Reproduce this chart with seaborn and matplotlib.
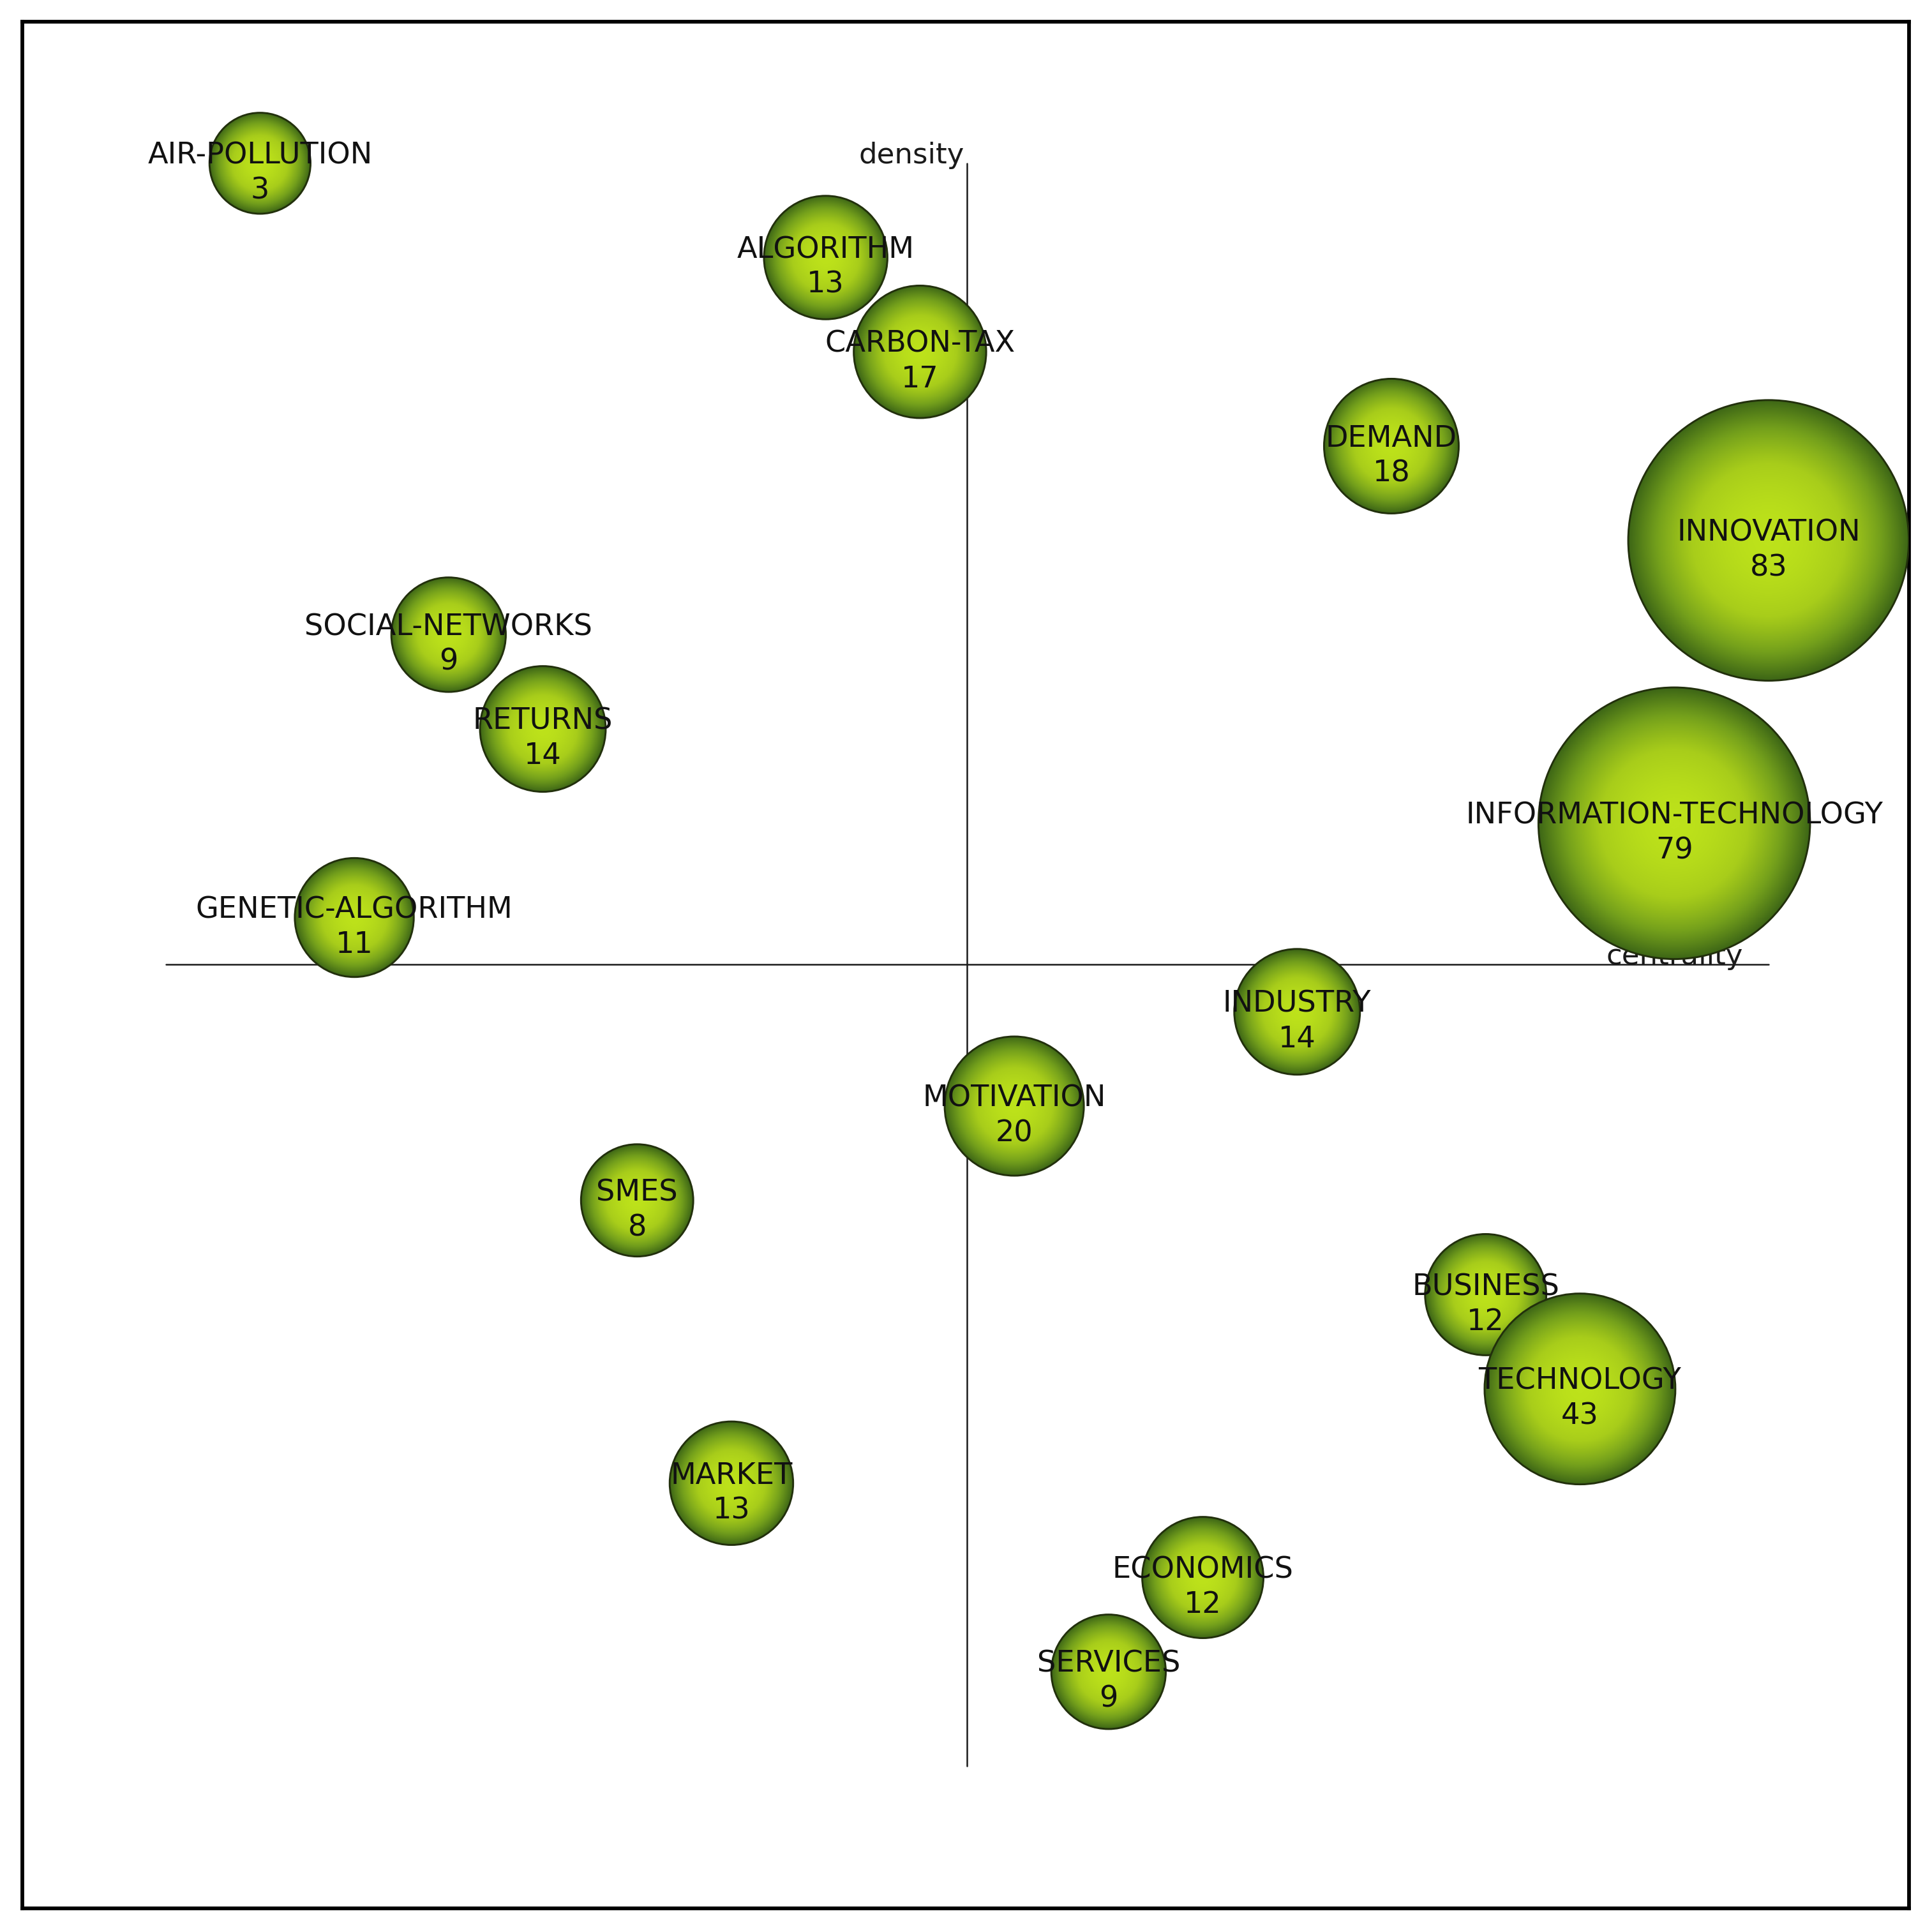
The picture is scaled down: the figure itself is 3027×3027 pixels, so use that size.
import numpy as np
import matplotlib
matplotlib.use("Agg")
import matplotlib.pyplot as plt
from matplotlib.patches import Circle
import seaborn as sns

sns.set_theme(style="white")
plt.rcParams["font.family"] = ["DejaVu Sans"]

# themes: name, documents, centrality rank, density rank
themes = ["AIR-POLLUTION", "ALGORITHM", "CARBON-TAX", "DEMAND", "INNOVATION",
          "SOCIAL-NETWORKS", "RETURNS", "INFORMATION-TECHNOLOGY", "GENETIC-ALGORITHM",
          "INDUSTRY", "MOTIVATION", "SMES", "BUSINESS", "TECHNOLOGY", "MARKET",
          "ECONOMICS", "SERVICES"]
docs = [3, 13, 17, 18, 83, 9, 14, 79, 11, 14, 20, 8, 12, 43, 13, 12, 9]
centrality = [1, 7, 8, 13, 17, 3, 4, 16, 2, 12, 9, 5, 14, 15, 6, 11, 10]
density = [17, 16, 15, 14, 13, 12, 11, 10, 9, 8, 7, 6, 5, 4, 3, 2, 1]

axis_mid = 8.5
axis_max = 17

# radial gradient: dark olive edge -> bright lime centre
bubble_cmap = sns.blend_palette(["#3d6616", "#74a01c", "#a8cd1a", "#bde21b"], as_cmap=True)

fig = plt.figure(figsize=(10.09, 10.09), dpi=300)
ax = fig.add_axes([0.0116, 0.0122, 0.9765, 0.9765])
ax.set_xlim(-1.52, 18.49)
ax.set_ylim(-1.51, 18.50)
ax.set_aspect("equal")
ax.set_xticks([])
ax.set_yticks([])
for sp in ax.spines.values():
    sp.set_color("black")
    sp.set_linewidth(1.4)

# quadrant axes
ax.plot([0, axis_max], [axis_mid, axis_mid], color="#1a1a1a", lw=0.6, zorder=1)
ax.plot([axis_mid, axis_mid], [0, axis_max], color="#1a1a1a", lw=0.6, zorder=1)
ax.text(axis_mid - 0.03, axis_max, "density", ha="right", va="baseline",
        fontsize=10.8, color="#1a1a1a", zorder=1.5)
ax.text(axis_max - 0.27, axis_mid, "centrality", ha="right", va="baseline",
        fontsize=10.8, color="#1a1a1a", zorder=1.5)

g = np.linspace(-1, 1, 300)
gx, gy = np.meshgrid(g, g)
shade = 1 - np.clip(np.sqrt(gx**2 + gy**2), 0, 1) ** 1.8

for i, (name, n, cx, cy) in enumerate(zip(themes, docs, centrality, density)):
    r = 0.5 + n / 84
    z = 3 + i * 0.01
    circ = Circle((cx, cy), r, facecolor="none", edgecolor="#22300c", lw=0.7, zorder=z + 0.005)
    ax.add_patch(circ)
    im = ax.imshow(shade, cmap=bubble_cmap, extent=[cx - r, cx + r, cy - r, cy + r],
                   origin="lower", zorder=z, interpolation="bilinear", vmin=0, vmax=1)
    im.set_clip_path(circ)

for name, n, cx, cy in zip(themes, docs, centrality, density):
    ax.text(cx, cy + 0.08, name, ha="center", va="center", fontsize=11.1,
            color="#111111", zorder=10)
    ax.text(cx, cy - 0.29, str(n), ha="center", va="center", fontsize=11.1,
            color="#111111", zorder=10)

ax.set_xlim(-1.52, 18.49)
ax.set_ylim(-1.51, 18.50)
fig.savefig("out.png", dpi=300, facecolor="white")
